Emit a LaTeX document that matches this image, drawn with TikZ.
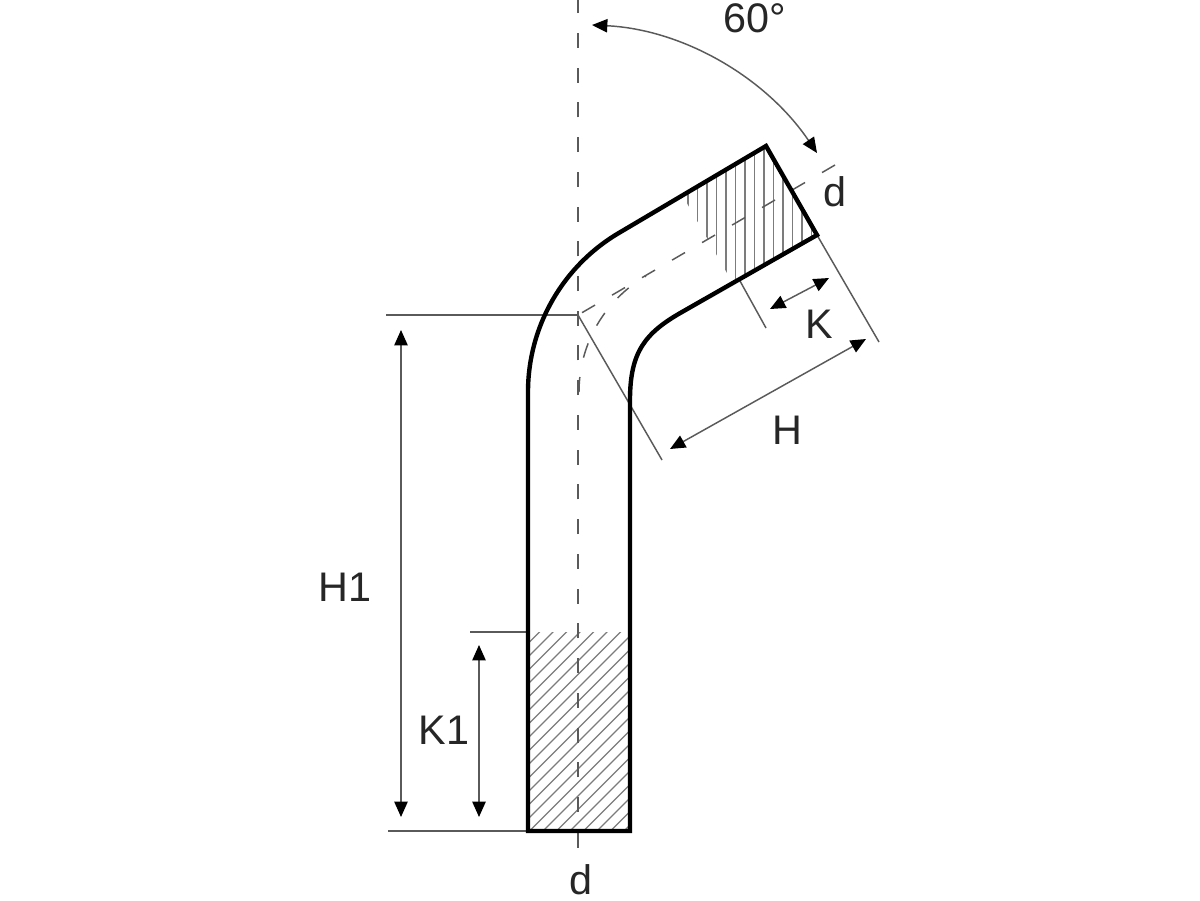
\documentclass[tikz,border=0pt]{standalone}
\usepackage{fontspec}
\setmainfont{Liberation Sans}
\usetikzlibrary{arrows.meta}
\definecolor{dimgrey}{HTML}{5A5A5A}
\definecolor{hatchgrey}{HTML}{7C7C7C}
\tikzset{
  x=0.75pt,y=-0.75pt,
  pipeline/.style={line width=3.3pt,black,line join=miter},
  thinline/.style={line width=1.1pt,dimgrey},
  dimline/.style={line width=1.1pt,dimgrey,{Triangle[length=11.5pt,width=10pt,black]}-{Triangle[length=11.5pt,width=10pt,black]}},
  axisline/.style={line width=1.1pt,dimgrey,dash pattern=on 11.25pt off 14.8pt},
  hatchline/.style={line width=1pt,hatchgrey},
  lbl/.style={inner sep=0pt,font=\fontsize{31}{36}\selectfont,text=black!85}
}
\begin{document}
\begin{tikzpicture}
\useasboundingbox (0,0) rectangle (1200,900);
\fill[white] (0,0) rectangle (1200,900);
% named points
\coordinate (bl) at (528,831);
\coordinate (br) at (630,831);
\coordinate (ol) at (528,392);
\coordinate (oe) at (620.5,232);
\coordinate (tl) at (766,146);
\coordinate (tr) at (817,235);
\coordinate (ie) at (682,312);
\coordinate (il) at (630,400);
\coordinate (origin) at (578,315);
% hatching bottom
\begin{scope}
\clip (528,632) rectangle (630,831);
\foreach \i in {0,...,24}{
  \draw[hatchline] (528+13.5*\i-210,840) -- (528+13.5*\i,630);
}
\end{scope}
% hatching top
\begin{scope}
\clip (682,194.5) -- (tl) -- (tr) -- (733,283.5) -- cycle;
\foreach \i in {0,...,13}{
  \draw[hatchline] (688+9.5*\i,130) -- (688+9.5*\i,300);
}
\end{scope}
% axes
\draw[axisline] (578,812) -- (578,0);
\draw[thinline] (578,831) -- (578,848);
\draw[axisline] (835,165) -- (origin);
\draw[axisline] (579,392) .. controls (579,344.2) and (604.6,300) .. (646,276);
% extension lines
\draw[thinline] (386,315) -- (origin);
\draw[thinline] (388,831) -- (bl);
\draw[thinline] (470,632) -- (528,632);
\draw[thinline] (origin) -- (662,460);
\draw[thinline] (tr) -- (879,342);
\coordinate (kfoot) at (740,281);
\draw[thinline] (kfoot) -- (766,328);
% dimensions
\draw[dimline] (401,330) -- (401,817);
\draw[dimline] (479,645) -- (479,817);
\draw[dimline] (670,449) -- (866,339);
\draw[dimline] (770,309) -- (829,278);
\draw[dimline] (592,25) .. controls (683,29.5) and (765.8,77.3) .. (817,153);
% pipe outline
\draw[pipeline] (bl) -- (ol) .. controls (528,326) and (563.3,265) .. (oe) -- (tl) -- (tr) -- (ie)
  .. controls (645,333) and (630,352) .. (il) -- (br) -- cycle;
% labels
\node[lbl] (a60) at (755,18) {60°};
\node[lbl] (dtop) at (835,192) {d};
\node[lbl] (k) at (819,324) {K};
\node[lbl] (h) at (787,430) {H};
\node[lbl] (h1) at (345,587) {H1};
\node[lbl] (k1) at (444,730) {K1};
\node[lbl] (dbot) at (581,880) {d};
\end{tikzpicture}
\end{document}
